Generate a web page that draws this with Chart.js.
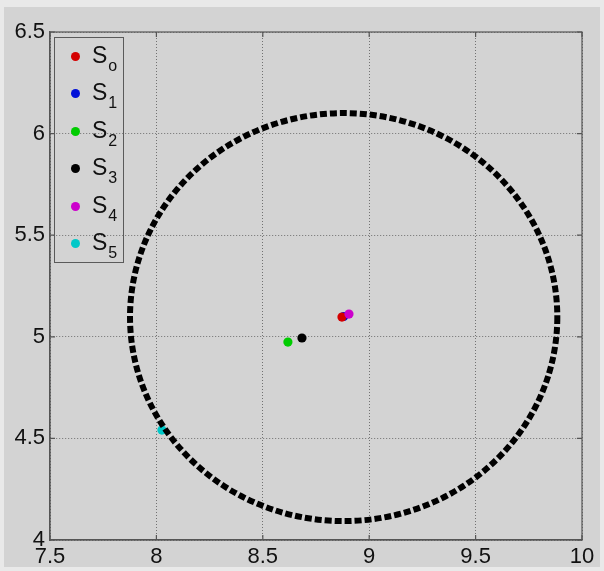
<!DOCTYPE html>
<html>
<head>
<meta charset="utf-8">
<script src="https://cdn.jsdelivr.net/npm/chart.js@4/dist/chart.umd.min.js"></script>
<style>
  html, body { margin: 0; padding: 0; background: #e9e9e9; }
  #wrap { position: absolute; left: 4px; top: 7px; width: 596px; height: 560px; background: #d3d3d3; }
  #c { display: block; }
  #legend { position: absolute; left: 50px; top: 30px; width: 68px; height: 224px;
            border: 1px solid #5a5a5a; font-family: Arial, "Liberation Sans", sans-serif; color: #111; }
  .item { position: absolute; left: 0; height: 30px; width: 68px; }
  .dot { position: absolute; left: 16px; top: 10px; width: 9px; height: 9px; border-radius: 50%; }
  .lbl { position: absolute; left: 37px; top: 0px; font-size: 23px; line-height: 26px; white-space: nowrap; }
  .lbl sub { font-size: 16px; vertical-align: baseline; position: relative; top: 8px; margin-left: 1px; }
</style>
</head>
<body>
<div id="wrap">
  <canvas id="c" width="596" height="560"></canvas>
  <div id="legend"></div>
</div>
<script>
// Measured positions of the source points S0..S5
const seriesBase = 'S';
const seriesSubs = ['o', '1', '2', '3', '4', '5'];
const seriesColors = ['#d40000', '#0010d8', '#00cc00', '#000000', '#cc00cc', '#00c8c8'];
const seriesX = [8.872, 8.880, 8.618, 8.684, 8.905, 8.026];
const seriesY = [5.097, 5.100, 4.974, 4.994, 5.112, 4.541];
// draw order: lower value ends up on top
const seriesOrder = [1, 2, 3, 3, 0, 3];

// Boundary circle (centre x, centre y, radius) in data units
const circleCenter = [8.88, 5.097];
const circleRadius = 1.004;

// Axis ranges and tick values
const xTicks = [7.5, 8, 8.5, 9, 9.5, 10];
const yTicks = [4, 4.5, 5, 5.5, 6, 6.5];

const datasets = seriesSubs.map((sub, i) => ({
  label: seriesBase + sub,
  data: [{ x: seriesX[i], y: seriesY[i] }],
  backgroundColor: seriesColors[i],
  borderColor: seriesColors[i],
  borderWidth: 0,
  pointRadius: 4.6,
  pointHoverRadius: 4.6,
  order: seriesOrder[i]
}));

// Dashed circle drawn through the chart scales
const circlePlugin = {
  id: 'circle',
  afterDatasetsDraw(chart) {
    const { ctx, scales: { x, y } } = chart;
    const cx = x.getPixelForValue(circleCenter[0]);
    const cy = y.getPixelForValue(circleCenter[1]);
    const rx = Math.abs(x.getPixelForValue(circleCenter[0] + circleRadius) - cx);
    const ry = Math.abs(y.getPixelForValue(circleCenter[1] + circleRadius) - cy);
    ctx.save();
    ctx.beginPath();
    ctx.ellipse(cx, cy, rx, ry, 0, 0, Math.PI * 2);
    ctx.setLineDash([7, 3]);
    ctx.lineWidth = 6;
    ctx.lineCap = 'butt';
    ctx.strokeStyle = '#000';
    ctx.stroke();
    ctx.restore();
  }
};

// Closed box around the plot with short inward tick marks
const framePlugin = {
  id: 'frame',
  afterDraw(chart) {
    const { ctx, chartArea: a, scales: { x, y } } = chart;
    ctx.save();
    ctx.strokeStyle = '#555';
    ctx.lineWidth = 1.2;
    ctx.strokeRect(a.left, a.top, a.right - a.left, a.bottom - a.top);
    ctx.beginPath();
    const t = 5;
    xTicks.forEach(v => {
      const px = x.getPixelForValue(v);
      ctx.moveTo(px, a.bottom); ctx.lineTo(px, a.bottom - t);
      ctx.moveTo(px, a.top); ctx.lineTo(px, a.top + t);
    });
    yTicks.forEach(v => {
      const py = y.getPixelForValue(v);
      ctx.moveTo(a.left, py); ctx.lineTo(a.left + t, py);
      ctx.moveTo(a.right, py); ctx.lineTo(a.right - t, py);
    });
    ctx.stroke();
    ctx.restore();
  }
};

const tickFont = { family: 'Arial, "Liberation Sans", sans-serif', size: 22 };
const gridOpts = { color: 'rgba(95,95,95,0.85)', lineWidth: 1, drawTicks: false };
const borderOpts = { color: '#555', width: 1.2, dash: [1, 2] };
const fmt = v => String(v);

new Chart(document.getElementById('c'), {
  type: 'scatter',
  data: { datasets },
  options: {
    responsive: false,
    devicePixelRatio: 1,
    animation: false,
    layout: { padding: { top: 25, right: 18, left: 0, bottom: 0 } },
    plugins: { legend: { display: false }, tooltip: { enabled: false } },
    scales: {
      x: {
        type: 'linear', min: xTicks[0], max: xTicks[xTicks.length - 1],
        afterBuildTicks: s => { s.ticks = xTicks.map(v => ({ value: v })); },
        ticks: { font: tickFont, color: '#111', padding: 4, callback: fmt },
        grid: gridOpts, border: borderOpts,
        afterFit: s => { s.height = 27; }
      },
      y: {
        type: 'linear', min: yTicks[0], max: yTicks[yTicks.length - 1],
        afterBuildTicks: s => { s.ticks = yTicks.map(v => ({ value: v })); },
        ticks: { font: tickFont, color: '#111', padding: 5, callback: fmt },
        grid: gridOpts, border: borderOpts,
        afterFit: s => { s.width = 46; }
      }
    }
  },
  plugins: [circlePlugin, framePlugin]
});

// Legend with subscripted labels
const legend = document.getElementById('legend');
seriesSubs.forEach((sub, i) => {
  const row = document.createElement('div');
  row.className = 'item';
  row.style.top = (4 + i * 37.4) + 'px';
  row.innerHTML = '<span class="dot" style="background:' + seriesColors[i] + '"></span>' +
    '<span class="lbl">' + seriesBase + '<sub>' + sub + '</sub></span>';
  legend.appendChild(row);
});
</script>
</body>
</html>
